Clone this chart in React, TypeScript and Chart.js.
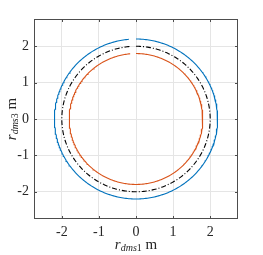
import React, { useEffect, useRef } from "react";
import { Chart, registerables } from "chart.js";

Chart.register(...registerables);

// Data
const seriesNames = ["outer", "reference", "inner"];
const radii = [2.2, 2.0, 1.8];
const seriesColors = ["#0072BD", "#000000", "#D95319"];
const seriesDash: number[][] = [[], [5, 2, 1, 2], []];
const startAngleDeg = 90; // trajectory starts at top
const sweepDeg = 355; // clockwise sweep, leaving a small gap
const angleStepDeg = 1;
const tickValues = [-2, -1, 0, 1, 2];
const axisMin = -2.75;
const axisMax = 2.75;
const xLabelMain = "r";
const xLabelSub = "dms";
const xLabelSubNum = "1";
const yLabelSubNum = "3";
const unitLabel = " m";

const FONT = "'Liberation Serif', 'DejaVu Serif', serif";

function circlePoints(r: number) {
  const pts: { x: number; y: number }[] = [];
  for (let a = 0; a <= sweepDeg; a += angleStepDeg) {
    const t = ((startAngleDeg - a) * Math.PI) / 180;
    pts.push({ x: r * Math.cos(t), y: r * Math.sin(t) });
  }
  return pts;
}

function drawLabel(ctx: CanvasRenderingContext2D, cx: number, cy: number, subNum: string, rotate: boolean) {
  const mainSize = 15;
  const subSize = 10;
  const parts = [
    { text: xLabelMain, font: `italic ${mainSize}px ${FONT}`, dy: 0 },
    { text: xLabelSub, font: `italic ${subSize}px ${FONT}`, dy: 3.5 },
    { text: subNum, font: `${subSize}px ${FONT}`, dy: 3.5 },
    { text: unitLabel, font: `${mainSize}px ${FONT}`, dy: 0 },
  ];
  let total = 0;
  const widths = parts.map((p) => {
    ctx.font = p.font;
    const w = ctx.measureText(p.text).width;
    total += w;
    return w;
  });
  ctx.save();
  ctx.translate(cx, cy);
  if (rotate) ctx.rotate(-Math.PI / 2);
  ctx.fillStyle = "#262626";
  ctx.textBaseline = "middle";
  ctx.textAlign = "left";
  let x = -total / 2;
  parts.forEach((p, i) => {
    ctx.font = p.font;
    ctx.fillText(p.text, x, p.dy);
    x += widths[i];
  });
  ctx.restore();
}

const framePlugin = {
  id: "frame",
  afterDraw(chart: any) {
    const { ctx, chartArea } = chart;
    const { left, right, top, bottom } = chartArea;
    const xs = chart.scales.x;
    const ys = chart.scales.y;
    ctx.save();
    ctx.strokeStyle = "#4d4d4d";
    ctx.lineWidth = 1;
    ctx.strokeRect(left + 0.5, top + 0.5, right - left - 1, bottom - top - 1);
    const tl = 3;
    ctx.beginPath();
    tickValues.forEach((v) => {
      const px = Math.round(xs.getPixelForValue(v)) + 0.5;
      ctx.moveTo(px, bottom);
      ctx.lineTo(px, bottom - tl);
      ctx.moveTo(px, top);
      ctx.lineTo(px, top + tl);
      const py = Math.round(ys.getPixelForValue(v)) + 0.5;
      ctx.moveTo(left, py);
      ctx.lineTo(left + tl, py);
      ctx.moveTo(right, py);
      ctx.lineTo(right - tl, py);
    });
    ctx.stroke();
    ctx.restore();
    drawLabel(ctx, (left + right) / 2, 245, xLabelSubNum, false);
    drawLabel(ctx, 12, (top + bottom) / 2, yLabelSubNum, true);
  },
};

export default function App() {
  const ref = useRef<HTMLCanvasElement>(null);
  useEffect(() => {
    if (!ref.current) return;
    const tickOpts = {
      color: "#262626",
      font: { family: FONT, size: 14 },
      padding: 5,
      callback: (v: any) => String(v),
    };
    const chart = new Chart(ref.current, {
      type: "scatter",
      data: {
        datasets: radii.map((r, i) => ({
          label: seriesNames[i],
          data: circlePoints(r),
          showLine: true,
          borderColor: seriesColors[i],
          borderWidth: 1.1,
          borderDash: seriesDash[i],
          pointRadius: 0,
          fill: false,
          tension: 0,
        })),
      },
      options: {
        animation: false,
        responsive: false,
        maintainAspectRatio: false,
        layout: { padding: { left: 0, top: 19, right: 25, bottom: 0 } },
        plugins: { legend: { display: false }, tooltip: { enabled: false } },
        scales: {
          x: {
            type: "linear",
            min: axisMin,
            max: axisMax,
            afterBuildTicks: (s: any) => {
              s.ticks = tickValues.map((v) => ({ value: v }));
            },
            afterFit: (s: any) => {
              s.height = 36;
            },
            grid: { color: "#e5e5e5", drawTicks: false },
            border: { display: false },
            ticks: { ...tickOpts, maxRotation: 0 },
          },
          y: {
            type: "linear",
            min: axisMin,
            max: axisMax,
            afterBuildTicks: (s: any) => {
              s.ticks = tickValues.map((v) => ({ value: v }));
            },
            afterFit: (s: any) => {
              s.width = 34;
            },
            grid: { color: "#e5e5e5", drawTicks: false },
            border: { display: false },
            ticks: tickOpts,
          },
        },
      },
      plugins: [framePlugin],
    });
    return () => chart.destroy();
  }, []);
  return (
    <div style={{ position: "fixed", left: 0, top: 0, width: 263, height: 255, background: "#fff" }}>
      <canvas ref={ref} width={263} height={255} style={{ width: 263, height: 255 }} />
    </div>
  );
}
